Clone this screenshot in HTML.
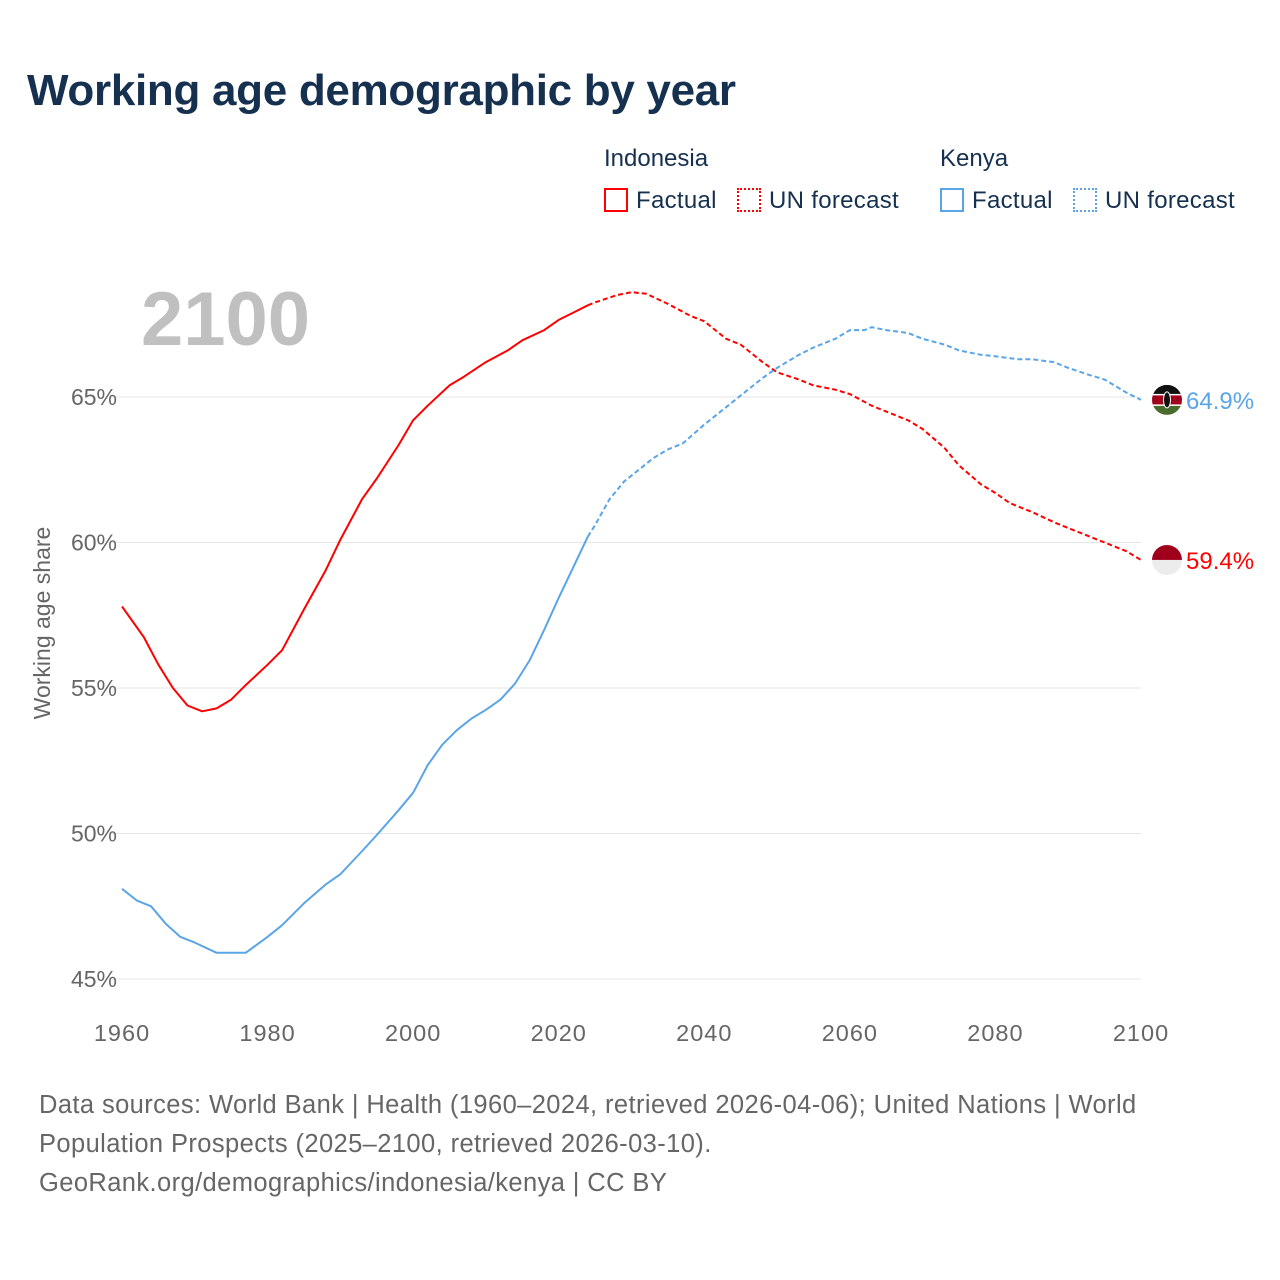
<!DOCTYPE html>
<html><head><meta charset="utf-8"><style>
html,body{margin:0;padding:0;background:#fff;}
body{width:1280px;height:1280px;position:relative;font-family:"Liberation Sans",sans-serif;overflow:hidden;}
.t{position:absolute;white-space:nowrap;}
</style></head><body>
<div class="t" style="left:27px;top:66px;font-size:44px;font-weight:bold;color:#163050;letter-spacing:-0.3px;">Working age demographic by year</div>
<div class="t" style="left:604px;top:145px;font-size:24px;color:#163050;">Indonesia</div>
<div class="t" style="left:940px;top:145px;font-size:24px;color:#163050;">Kenya</div>
<div class="t" style="left:604px;top:187px;font-size:24px;color:#163050;letter-spacing:0.3px;"><span style="display:inline-block;width:20px;height:20px;border:2px solid #f00;vertical-align:-4px;margin-right:8px;"></span>Factual</div>
<div class="t" style="left:737px;top:187px;font-size:24px;color:#163050;letter-spacing:0.3px;"><span style="display:inline-block;width:20px;height:20px;border:2px dotted #f00;vertical-align:-4px;margin-right:8px;"></span>UN forecast</div>
<div class="t" style="left:940px;top:187px;font-size:24px;color:#163050;letter-spacing:0.3px;"><span style="display:inline-block;width:20px;height:20px;border:2px solid #5aa5e8;vertical-align:-4px;margin-right:8px;"></span>Factual</div>
<div class="t" style="left:1073px;top:187px;font-size:24px;color:#163050;letter-spacing:0.3px;"><span style="display:inline-block;width:20px;height:20px;border:2px dotted #5aa5e8;vertical-align:-4px;margin-right:8px;"></span>UN forecast</div>
<div class="t" style="left:141px;top:276px;font-size:76px;font-weight:bold;color:#c0c0c0;">2100</div>
<svg id="chart" width="1280" height="1280" style="position:absolute;left:0;top:0;"></svg>
<div class="t" style="left:39px;top:1086px;font-size:25.5px;line-height:39px;color:#666;letter-spacing:0.4px;">Data sources: World Bank | Health (1960–2024, retrieved 2026-04-06); United Nations | World<br>Population Prospects (2025–2100, retrieved 2026-03-10).<br>GeoRank.org/demographics/indonesia/kenya | CC BY</div>
<script>
const years=[1960,1963,1965,1967,1969,1971,1973,1975,1977,1980,1982,1985,1988,1990,1993,1995,1998,2000,2002,2005,2007,2010,2013,2015,2018,2020,2022,2024,2025,2028,2030,2032,2035,2038,2040,2043,2045,2048,2050,2053,2055,2058,2060,2063,2065,2068,2070,2073,2075,2078,2080,2082,2085,2088,2090,2093,2095,2098,2100];
const indonesia=[57.8,56.75,55.8,55.0,54.4,54.2,54.3,54.6,55.1,55.8,56.3,57.7,59.05,60.1,61.5,62.2,63.35,64.2,64.7,65.4,65.7,66.2,66.6,66.95,67.3,67.65,67.9,68.15,68.25,68.5,68.6,68.55,68.2,67.8,67.6,67.0,66.8,66.2,65.85,65.6,65.4,65.25,65.1,64.7,64.5,64.2,63.9,63.25,62.65,62.0,61.7,61.35,61.05,60.7,60.5,60.2,60.0,59.7,59.4];
const kYears=[1960,1962,1964,1966,1968,1970,1973,1977,1980,1982,1985,1988,1990,1993,1995,1998,2000,2002,2004,2006,2008,2010,2012,2014,2016,2018,2020,2022,2024,2025,2027,2029,2031,2033,2035,2037,2040,2043,2045,2048,2050,2053,2055,2058,2060,2062,2063,2065,2068,2070,2073,2075,2078,2080,2083,2085,2088,2090,2093,2095,2098,2100];
const kenya=[48.1,47.7,47.5,46.9,46.45,46.25,45.9,45.9,46.45,46.85,47.6,48.25,48.6,49.4,49.95,50.8,51.4,52.35,53.05,53.55,53.95,54.25,54.6,55.15,55.95,57.0,58.1,59.15,60.2,60.6,61.5,62.1,62.5,62.9,63.2,63.4,64.05,64.65,65.05,65.65,66.0,66.45,66.7,67.0,67.3,67.3,67.4,67.3,67.2,67.0,66.8,66.6,66.45,66.4,66.3,66.3,66.2,66.0,65.75,65.6,65.15,64.9];
const yTicks=[45,50,55,60,65];
const xTicks=[1960,1980,2000,2020,2040,2060,2080,2100];
const lastFactual=2024;
const X=y=>122+(y-1960)*(1019/140);
const Y=v=>397-(v-65)*29.1;
const svg=document.getElementById('chart');
const NS='http://www.w3.org/2000/svg';
function mk(tag,attrs){const e=document.createElementNS(NS,tag);for(const k in attrs)e.setAttribute(k,attrs[k]);svg.appendChild(e);return e;}
yTicks.forEach(v=>{
 const l=mk('line',{x1:110,x2:1141,y1:Y(v),y2:Y(v),stroke:'#e6e6e6','stroke-width':1});
 
 
 const t=mk('text',{x:117,y:Y(v)+8,'text-anchor':'end','font-size':23,fill:'#666','font-family':'Liberation Sans, sans-serif'});
 t.textContent=v+'%';
 
 
});
xTicks.forEach(v=>{
 const t=mk('text',{x:X(v),y:1041,'text-anchor':'middle','font-size':23.5,fill:'#666','font-family':'Liberation Sans, sans-serif','letter-spacing':1});
 t.textContent=v;
 
 
});
const yt=mk('text',{transform:'translate(50,623) rotate(-90)','text-anchor':'middle','font-size':23,fill:'#666','font-family':'Liberation Sans, sans-serif'});
yt.textContent='Working age share';


function series(xs,vs,color,name){
 const f=[],p=[];
 xs.forEach((x,i)=>{const pt=X(x).toFixed(1)+','+Y(vs[i]).toFixed(1);if(x<=lastFactual)f.push(pt);if(x>=lastFactual)p.push(pt);});
 const a=mk('polyline',{points:f.join(' '),fill:'none',stroke:color,'stroke-width':2,'stroke-linejoin':'round'});
 
 
 const b=mk('polyline',{points:p.join(' '),fill:'none',stroke:color,'stroke-width':2,'stroke-dasharray':'5,3'});
 
 
}
series(years,indonesia,'#ff0000','indonesia');
series(kYears,kenya,'#5aa5e8','kenya');
const defs=mk('defs',{});
defs.innerHTML='<clipPath id="c1"><circle cx="1167" cy="'+Y(kenya[kenya.length-1])+'" r="15"/></clipPath><clipPath id="c2"><circle cx="1167" cy="'+Y(indonesia[indonesia.length-1])+'" r="15"/></clipPath>';
const ky=Y(kenya[kenya.length-1]);
const kg=mk('g',{'clip-path':'url(#c1)'});


kg.innerHTML='<rect x="1152" y="'+(ky-15)+'" width="30" height="10" fill="#111"/><rect x="1152" y="'+(ky-5)+'" width="30" height="10" fill="#a0001c"/><rect x="1152" y="'+(ky+5)+'" width="30" height="10" fill="#4a6b2e"/><rect x="1152" y="'+(ky-6)+'" width="30" height="1.5" fill="#fff"/><rect x="1152" y="'+(ky+4.5)+'" width="30" height="1.5" fill="#fff"/><ellipse cx="1167" cy="'+ky+'" rx="3.5" ry="8" fill="#111" stroke="#fff" stroke-width="1"/>';
const iy=Y(indonesia[indonesia.length-1]);
const ig=mk('g',{'clip-path':'url(#c2)'});


ig.innerHTML='<rect x="1152" y="'+(iy-15)+'" width="30" height="15" fill="#a0001c"/><rect x="1152" y="'+iy+'" width="30" height="15" fill="#ececec"/>';
const kl=mk('text',{x:1186,y:ky+9,'font-size':24,fill:'#5aa5e8','font-family':'Liberation Sans, sans-serif'});
kl.textContent=kenya[kenya.length-1].toFixed(1)+'%';


const il=mk('text',{x:1186,y:iy+9,'font-size':24,fill:'#ff0000','font-family':'Liberation Sans, sans-serif'});
il.textContent=indonesia[indonesia.length-1].toFixed(1)+'%';


</script>
</body></html>
